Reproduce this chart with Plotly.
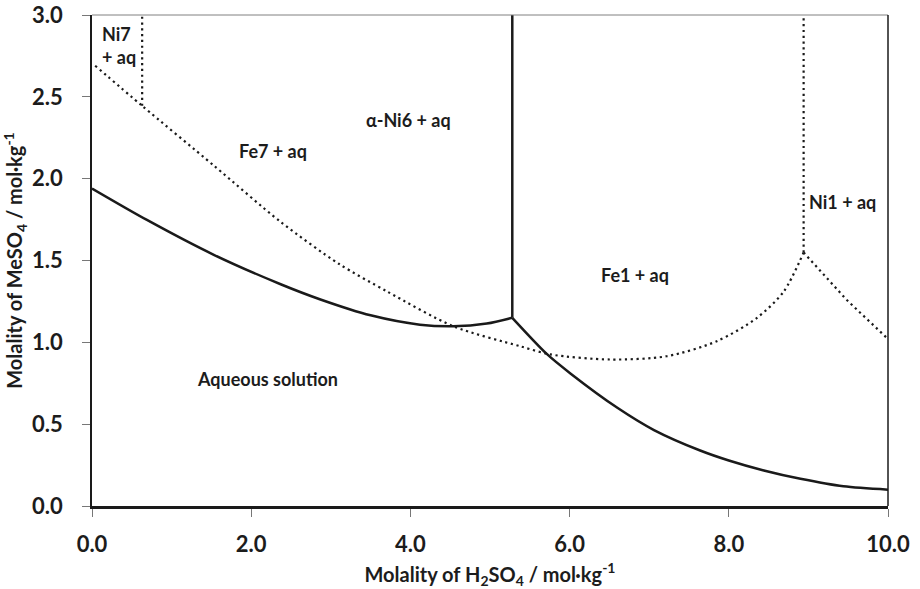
import plotly.graph_objects as go

# Solid boundary: aqueous solution / Fe7 + aq / alpha-Ni6 + aq
solid_left_x = [0, 0.69, 1.53, 2.37, 2.87, 3.50, 4.12, 4.54, 4.96, 5.28]
solid_left_y = [1.94, 1.748, 1.535, 1.355, 1.262, 1.165, 1.108, 1.098, 1.115, 1.15]
# Solid vertical boundary alpha-Ni6 / Fe1
solid_vert_x = [5.28, 5.28]
solid_vert_y = [1.15, 3.0]
# Solid boundary: aqueous solution / Fe1 + aq
solid_right_x = [5.28, 5.72, 6.01, 6.6, 7.06, 7.64, 8.0, 8.44, 8.9, 9.44, 10.0]
solid_right_y = [1.15, 0.926, 0.81, 0.60, 0.464, 0.339, 0.278, 0.217, 0.166, 0.12, 0.10]

# Dotted boundaries
dot_main_x = [0.04, 0.63, 1.53, 2.37, 3.10, 3.71, 4.54, 5.38, 5.76, 6.51, 7.22, 7.85, 8.35, 8.69, 8.94]
dot_main_y = [2.69, 2.445, 2.08, 1.736, 1.48, 1.31, 1.098, 0.976, 0.926, 0.895, 0.915, 1.007, 1.148, 1.31, 1.549]
dot_right_x = [8.94, 9.48, 10.0]
dot_right_y = [1.549, 1.26, 1.02]
dot_ni7_x = [0.63, 0.63]
dot_ni7_y = [2.445, 3.0]
dot_ni1_x = [8.94, 8.94]
dot_ni1_y = [1.549, 3.0]

# Region labels
label_text = ["Ni7<br>+ aq", "α-Ni6 + aq", "Fe7 + aq", "Fe1 + aq", "Ni1 + aq", "Aqueous solution"]
label_x = [0.10, 3.97, 2.27, 6.82, 9.43, 2.2]
label_y = [2.815, 2.36, 2.17, 1.41, 1.86, 0.776]
label_anchor = ["left", "center", "center", "center", "center", "center"]

x_ticks = [0, 2, 4, 6, 8, 10]
y_ticks = [0, 0.5, 1.0, 1.5, 2.0, 2.5, 3.0]

FONT = "Lato"
BLACK = "#1a1a1a"
TXT = "#1c1c1c"

fig = go.Figure()

solid_style = dict(color=BLACK, width=2.5)
dot_style = dict(color=BLACK, width=2.2, dash="2.2px,3.6px")

fig.add_trace(go.Scatter(x=solid_left_x, y=solid_left_y, mode="lines",
                         line=dict(**solid_style, shape="spline", smoothing=0.8)))
fig.add_trace(go.Scatter(x=solid_vert_x, y=solid_vert_y, mode="lines", line=solid_style))
fig.add_trace(go.Scatter(x=solid_right_x, y=solid_right_y, mode="lines",
                         line=dict(**solid_style, shape="spline", smoothing=0.8)))
fig.add_trace(go.Scatter(x=dot_main_x, y=dot_main_y, mode="lines",
                         line=dict(**dot_style, shape="spline", smoothing=0.8)))
fig.add_trace(go.Scatter(x=dot_right_x, y=dot_right_y, mode="lines", line=dot_style))
fig.add_trace(go.Scatter(x=dot_ni7_x, y=dot_ni7_y, mode="lines", line=dot_style))
fig.add_trace(go.Scatter(x=dot_ni1_x, y=dot_ni1_y, mode="lines", line=dot_style))

for t, x, y, a in zip(label_text, label_x, label_y, label_anchor):
    fig.add_annotation(x=x, y=y, text=t, showarrow=False, xanchor=a, align="left",
                       font=dict(family=FONT, size=18, color=TXT, weight="bold"))

fig.update_layout(
    width=920, height=589,
    margin=dict(l=92, r=32, t=15, b=83),
    paper_bgcolor="white", plot_bgcolor="white",
    showlegend=False,
    font=dict(family=FONT, color=TXT),
)
fig.update_xaxes(
    range=[0, 10], tickvals=x_ticks, tickformat=".1f",
    showgrid=False, zeroline=False, automargin=False,
    showline=True, linecolor=BLACK, linewidth=2.5,
    ticks="outside", ticklen=8, tickcolor="#777777", tickwidth=1,
    ticklabelstandoff=9, ticklabeloverflow="allow",
    tickfont=dict(family=FONT, size=22, color=TXT, weight="bold"),
    title=dict(text="Molality of H<sub>2</sub>SO<sub>4</sub> / mol·kg<sup>-1</sup>",
               font=dict(family=FONT, size=20, color=TXT, weight="bold")),
)
fig.update_yaxes(
    range=[0, 3.0], tickvals=y_ticks, tickformat=".1f",
    showgrid=False, zeroline=False, automargin=False,
    showline=True, linecolor=BLACK, linewidth=1.5,
    ticks="outside", ticklen=8, tickcolor="#777777", tickwidth=1,
    ticklabelstandoff=15, ticklabeloverflow="allow",
    tickfont=dict(family=FONT, size=22, color=TXT, weight="bold"),
    title=dict(text="Molality of MeSO<sub>4</sub> / mol·kg<sup>-1</sup>",
               font=dict(family=FONT, size=20, color=TXT, weight="bold")),
)
# Frame: top grey, right black
fig.add_shape(type="line", xref="paper", yref="paper", x0=0, x1=1, y0=1, y1=1,
              line=dict(color="#808080", width=1))
fig.add_shape(type="line", xref="paper", yref="paper", x0=1, x1=1, y0=0, y1=1,
              line=dict(color=BLACK, width=1.5))

fig.write_html("out.html", config={"displayModeBar": False},
               post_script="document.body.style.margin='0';")
